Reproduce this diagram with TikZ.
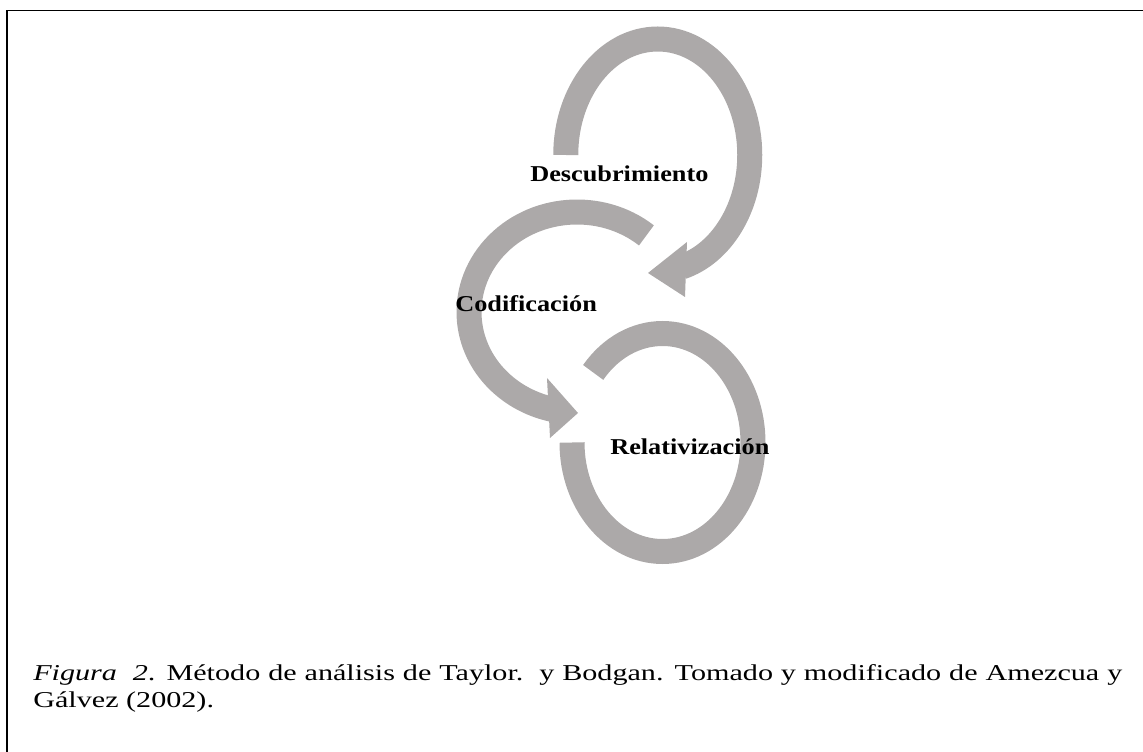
\documentclass[tikz,border=0pt]{standalone}
\usepackage{fontspec}
\setmainfont{Liberation Serif}[FakeStretch=1.16]
\newfontfamily\captfont{Liberation Serif}[FakeStretch=1.33]
\usepackage{tikz}
\definecolor{arcgray}{RGB}{172,169,169}
\tikzset{
  ring/.style={draw=arcgray, line width=18.75pt},
  head/.style={fill=arcgray},
  lbl/.style={anchor=base west, inner sep=0pt, font=\fontsize{17}{20.25}\selectfont\bfseries},
  capt/.style={anchor=base west, inner sep=0pt, font=\captfont\fontsize{17}{20.25}\selectfont}
}

\begin{document}
\begin{tikzpicture}[x=0.75pt,y=0.75pt,yscale=-1,xscale=1]
	\useasboundingbox (0,0) rectangle (1143,752);
	
	%Straight Lines [frame]
	\draw [line width=1.1pt]   (7,752) -- (7,10.5) -- (1143,10.5) ;
	
	%Shape: Arc [descubrimiento]
	\draw [ring]   (565.75,155) arc [start angle=180, end angle=435, x radius=92, y radius=116] ;
	\fill [head]   (687,242) -- (648,273) -- (685,297) -- cycle ;
	%Shape: Arc [codificacion]
	\draw [ring]   (646.42,235.40) arc [start angle=-50, end angle=-260, x radius=108, y radius=100] ;
	\fill [head]   (547,378) -- (578,413) -- (550,438) -- cycle ;
	%Shape: Arc [relativizacion]
	\draw [ring]   (572,442.5) arc [start angle=180, end angle=-140, x radius=90.5, y radius=109] ;
	
	% Text Node
	\draw (530,182) node [lbl] (desc) {Descubrimiento};
	% Text Node
	\draw (455,311.5) node [lbl] (codi) {Codificación};
	% Text Node
	\draw (610,455) node [lbl] (rela) {Relativización};
	% Text Node
	\draw (33,680) node [capt] (cap1) {\makebox[816.75pt][s]{\textit{Figura}\ \ \textit{2}. Método de análisis de Taylor.\ \ y Bodgan. Tomado y modificado de Amezcua y}};
	% Text Node
	\draw (33,707) node [capt] (cap2) {Gálvez (2002).};
	
\end{tikzpicture}
\end{document}
